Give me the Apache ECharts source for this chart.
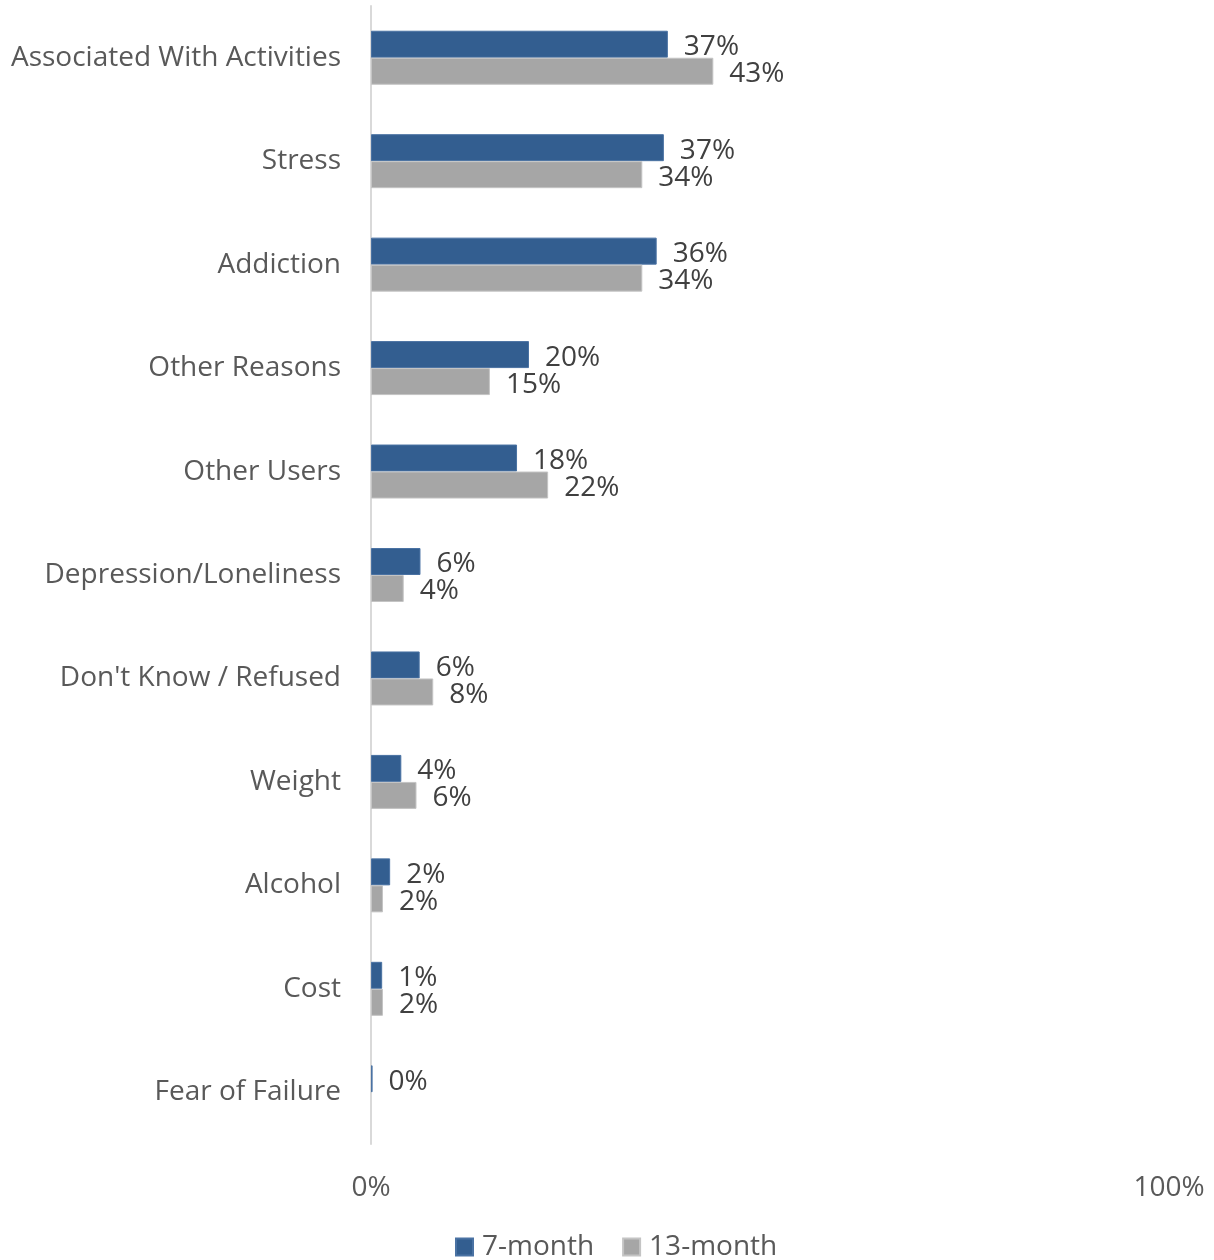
<!DOCTYPE html>
<html><head><meta charset="utf-8">
<script src="https://cdn.jsdelivr.net/npm/echarts@6/dist/echarts.min.js"></script>
<style>html,body{margin:0;padding:0;background:#fff}#c{width:1214px;height:1260px}</style>
</head><body><div id="c"></div>
<script>
const categories = ["Associated With Activities","Stress","Addiction","Other Reasons","Other Users","Depression/Loneliness","Don't Know / Refused","Weight","Alcohol","Cost","Fear of Failure"];
const month7 = [37.2, 36.7, 35.8, 19.8, 18.3, 6.2, 6.1, 3.8, 2.4, 1.4, 0.2];
const month13 = [42.9, 34.0, 34.0, 14.9, 22.2, 4.1, 7.8, 5.7, 1.5, 1.5, null];
const xTicks = [0, 100];
const seriesNames = ["7-month", "13-month"];

const font = "'Open Sans', sans-serif";
const chart = echarts.init(document.getElementById('c'), null, {renderer: 'canvas'});
const lbl = {
  show: true, position: 'right', distance: 16, offset: [0, 3],
  fontFamily: font, fontSize: 28, color: '#404040',
  formatter: p => p.value == null ? '' : Math.round(p.value) + '%'
};
chart.setOption({
  animation: false,
  grid: {left: 371, right: 45, top: 6, bottom: 116, containLabel: false},
  legend: {
    bottom: -6, left: 450, itemWidth: 17, itemHeight: 17, itemGap: 28,
    textStyle: {fontFamily: font, fontSize: 28, color: '#595959', padding: [0, 0, 0, 4]},
    icon: 'rect',
    data: seriesNames
  },
  xAxis: {
    type: 'value', min: 0, max: 100, interval: 100,
    axisLine: {show: false}, axisTick: {show: false}, splitLine: {show: false},
    axisLabel: {formatter: v => xTicks.includes(v) ? v + '%' : '', fontFamily: font, fontSize: 28, color: '#595959', margin: 30}
  },
  yAxis: {
    type: 'category', inverse: true, data: categories,
    axisLine: {show: true, lineStyle: {color: '#d9d9d9', width: 2}},
    axisTick: {show: false},
    axisLabel: {fontFamily: font, fontSize: 28, color: '#595959', margin: 30, padding: [5, 0, 0, 0]}
  },
  series: [
    {name: seriesNames[0], type: 'bar', data: month7, barWidth: 27, barGap: '0%',
     itemStyle: {color: '#335e90', borderColor: '#4a72a3', borderWidth: 1}, label: lbl},
    {name: seriesNames[1], type: 'bar', data: month13, barWidth: 27, barGap: '0%',
     itemStyle: {color: '#a6a6a6', borderColor: '#c4c4c4', borderWidth: 1}, label: lbl}
  ]
});
</script></body></html>
